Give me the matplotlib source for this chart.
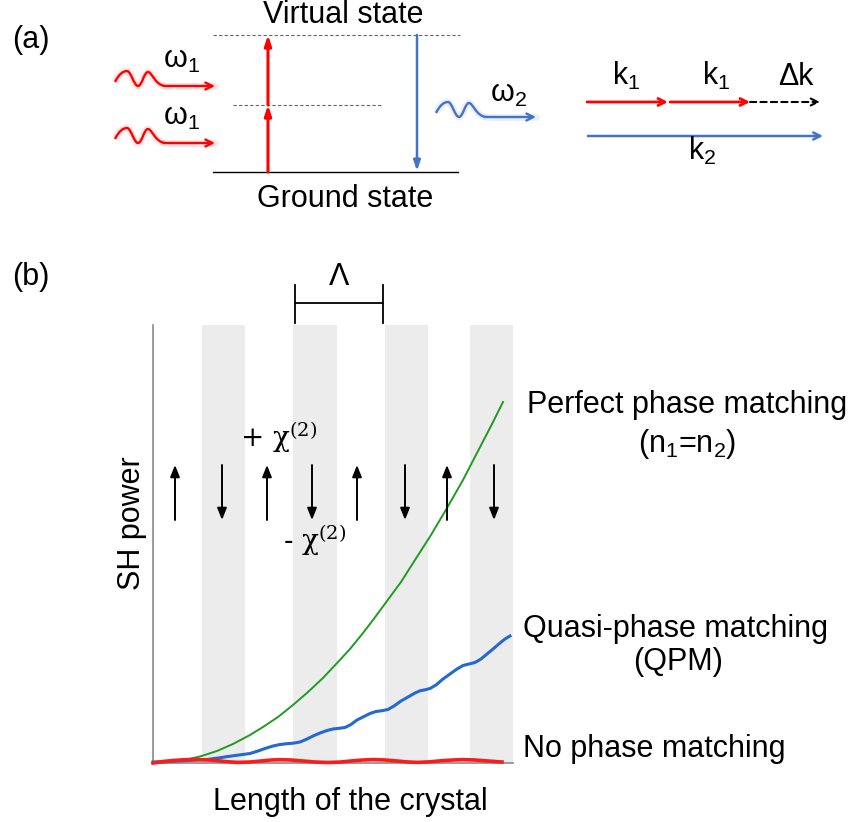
import matplotlib
matplotlib.use('Agg')
import matplotlib.pyplot as plt
from matplotlib.path import Path
from matplotlib.patches import PathPatch

plt.rcParams['font.family'] = ['Liberation Sans', 'DejaVu Sans']
plt.rcParams['mathtext.fontset'] = 'custom'
plt.rcParams['mathtext.rm'] = 'Liberation Sans'
plt.rcParams['mathtext.it'] = 'Liberation Sans'

RED = '#ff0000'
BLUE = '#4472c4'
FS = 22

# ---- (b) SH power along the crystal (x in arbitrary length units, y in arbitrary power)
stripes = [(48.5, 92), (140, 183.5), (232, 275), (317, 360)]

perfect_x = [0, 15, 30, 47, 64, 80, 97, 110, 125, 140, 155, 170, 185, 197, 210, 220,
             234, 248, 262, 278, 294, 310, 325, 338, 350]
perfect_y = [0, 0.7, 2.7, 6.5, 12, 19, 28, 36, 46, 58, 71, 85, 101, 114, 130, 143,
             162, 181, 203, 228, 255, 283, 312, 337, 361]

qpm_x = [0, 15, 30, 45, 54, 65, 75, 86, 97, 105, 112, 120, 127, 133, 140, 147, 153,
         160, 167, 174, 180, 186, 192, 198, 204, 211, 217, 223, 229, 235, 241, 248,
         255, 262, 267, 272, 277, 283, 290, 297, 304, 310, 316, 322, 328, 334, 340,
         347, 352, 357]
qpm_y = [1, 1.5, 2.2, 3, 3.5, 5, 6.5, 8, 9.5, 12, 14.5, 17, 18.5, 19.2, 19.8, 21, 23.5,
         27, 30, 32.5, 34, 34.7, 35.5, 38.5, 43, 46.5, 49.5, 51.5, 52.3, 53.5, 57, 62,
         66, 70, 72.2, 73.2, 74.5, 78, 84, 89, 94, 97.5, 99, 100.5, 104, 109, 114,
         120, 124, 127]

nopm_x = [0, 10, 20, 30, 40, 52, 64, 75, 85, 97, 108, 118, 127, 138, 150, 162,
          175, 188, 200, 210, 220, 232, 244, 255, 265, 277, 290, 300, 310, 322, 335, 349]
nopm_y = [0, 1.5, 2.5, 3.2, 3.5, 3.2, 2.4, 1.2, 0.6, 1.0, 2.0, 3.0, 3.3, 3.0, 2.0, 1.0,
          0.5, 1.0, 2.2, 3.0, 3.4, 3.0, 2.0, 1.0, 0.6, 1.2, 2.4, 3.0, 3.4, 3.0, 2.0, 1.0]

# domain orientation arrows (+chi / -chi)
up_x = [22, 114, 204, 294]
down_x = [69, 159, 252, 341]

# ---- (a) energy level diagram (figure pixel coords, y downwards)
virtual_y, middle_y, ground_y = 35, 105, 172
pump_x, sh_x = 268, 417
# wiggle of a photon, offsets from its start point
wave_pts = [(0, 0), (4, -8), (8, -11), (12, -11), (16, -11), (19, 4), (23, 4),
            (27, 4), (29, -10), (33, -10), (37, -10), (40, 3), (50, 4)]
wave_end = (100, 4)
red_waves = [(115, 82), (115, 139)]
blue_wave = (436, 113)

fig = plt.figure(figsize=(8.5, 8.22), dpi=100)

ax = fig.add_axes([153 / 850, 59 / 822, 360 / 850, 438 / 822])
ax.set_xlim(0, 360)
ax.set_ylim(0, 438)
for a, b in stripes:
    ax.axvspan(a, b, color='#ececec', lw=0, zorder=0)
ax.plot(perfect_x, perfect_y, color='#1f9c1f', lw=1.4, clip_on=False, zorder=3)
ax.plot(qpm_x, qpm_y, color='#2468d2', lw=2.2, clip_on=False, zorder=4)
ax.plot(nopm_x, nopm_y, color='#ff1a1a', lw=2.6, clip_on=False, zorder=5)
for s in ['top', 'right']:
    ax.spines[s].set_visible(False)
for s in ['left', 'bottom']:
    ax.spines[s].set_color('#8a8a8a')
    ax.spines[s].set_linewidth(1.2)
ax.set_xticks([])
ax.set_yticks([])

chi_arrow = dict(arrowstyle='-|>,head_width=0.28,head_length=0.7',
                 color='k', lw=1.4, shrinkA=0, shrinkB=0)
for x in up_x:
    ax.annotate('', xy=(x, 298), xytext=(x, 243), arrowprops=chi_arrow)
for x in down_x:
    ax.annotate('', xy=(x, 243), xytext=(x, 298), arrowprops=chi_arrow)

ax.text(87, 326, '+ χ$^{(2)}$', fontsize=20, family='DejaVu Serif',
        math_fontfamily='dejavuserif', va='center', ha='left')
ax.text(130, 223, '- χ$^{(2)}$', fontsize=20, family='DejaVu Serif',
        math_fontfamily='dejavuserif', va='center', ha='left')

# period bracket
ax.plot([142, 142], [440, 478], color='k', lw=1.3, clip_on=False)
ax.plot([230, 230], [440, 478], color='k', lw=1.3, clip_on=False)
ax.plot([142, 230], [460, 460], color='k', lw=1.3, clip_on=False)
ax.text(186, 486, 'Λ', fontsize=FS, ha='center', va='center')

# overlay in pixel coordinates
ov = fig.add_axes([0, 0, 1, 1])
ov.set_xlim(0, 850)
ov.set_ylim(822, 0)
ov.axis('off')

ov.text(12, 40, '(a)', fontsize=FS, va='center')
ov.text(12, 277, '(b)', fontsize=FS, va='center')

ov.plot([213, 460], [virtual_y, virtual_y], color='#666666', lw=0.8, ls=(0, (3, 2)))
ov.plot([233, 382], [middle_y, middle_y], color='#666666', lw=0.8, ls=(0, (3, 2)))
ov.plot([213, 458], [ground_y, ground_y], color='k', lw=1.0)

arr = dict(arrowstyle='-|>,head_width=0.2,head_length=0.6', lw=2.2, shrinkA=0, shrinkB=0)
ov.annotate('', xy=(pump_x, middle_y), xytext=(pump_x, ground_y), arrowprops=dict(arr, color=RED))
ov.annotate('', xy=(pump_x, virtual_y), xytext=(pump_x, middle_y), arrowprops=dict(arr, color=RED))
ov.annotate('', xy=(sh_x, ground_y - 1), xytext=(sh_x, virtual_y),
            arrowprops=dict(arr, color=BLUE, lw=1.8))

codes = [Path.MOVETO] + [Path.CURVE4] * 12


def photon(x0, y0, color):
    verts = [(x0 + dx, y0 + dy) for dx, dy in wave_pts]
    p = Path(verts, codes)
    ov.add_patch(PathPatch(p, fc='none', ec=color, lw=5, alpha=0.1))
    ov.add_patch(PathPatch(p, fc='none', ec=color, lw=1.7))
    ov.plot([verts[-1][0], x0 + wave_end[0]], [verts[-1][1], y0 + wave_end[1]],
            color=color, lw=5, alpha=0.1, solid_capstyle='round')
    ov.annotate('', xy=(x0 + wave_end[0], y0 + wave_end[1]), xytext=verts[-1],
                arrowprops=dict(arrowstyle='->,head_width=0.25,head_length=0.5',
                                color=color, lw=1.7, shrinkA=0, shrinkB=0))


for x0, y0 in red_waves:
    photon(x0, y0, RED)
photon(blue_wave[0], blue_wave[1], BLUE)

ov.text(163, 68, 'ω$_1$', fontsize=FS, va='baseline')
ov.text(163, 125, 'ω$_1$', fontsize=FS, va='baseline')
ov.text(490, 102, 'ω$_2$', fontsize=FS, va='baseline')
ov.text(343, 23, 'Virtual state', fontsize=FS, ha='center', va='baseline')
ov.text(345, 207, 'Ground state', fontsize=FS, ha='center', va='baseline')

# wave vector diagram
kv = dict(arrowstyle='->,head_width=0.25,head_length=0.5', shrinkA=0, shrinkB=0)
ov.annotate('', xy=(668, 102), xytext=(587, 102), arrowprops=dict(kv, color=RED, lw=2.0))
ov.annotate('', xy=(750, 102), xytext=(670, 102), arrowprops=dict(kv, color=RED, lw=2.0))
ov.annotate('', xy=(820, 102), xytext=(750, 102),
            arrowprops=dict(kv, color='k', lw=1.5, ls=(0, (3, 2))))
ov.annotate('', xy=(823, 136), xytext=(588, 136), arrowprops=dict(kv, color=BLUE, lw=1.8))
ov.text(612, 85, 'k$_1$', fontsize=FS, va='baseline')
ov.text(702, 85, 'k$_1$', fontsize=FS, va='baseline')
ov.text(778, 85, 'Δk', fontsize=FS, va='baseline')
ov.text(688, 160, 'k$_2$', fontsize=FS, va='baseline')

# (b) labels
ov.text(132, 523, 'SH power', fontsize=FS, rotation=90, ha='center', va='center')
ov.text(213, 810, 'Length of the crystal', fontsize=FS, va='baseline')
ov.text(527, 413, 'Perfect phase matching', fontsize=FS, va='baseline')
ov.text(687, 452, '(n$_1$=n$_2$)', fontsize=FS, ha='center', va='baseline')
ov.text(523, 637, 'Quasi-phase matching', fontsize=FS, va='baseline')
ov.text(678, 670, '(QPM)', fontsize=FS, ha='center', va='baseline')
ov.text(523, 757, 'No phase matching', fontsize=FS, va='baseline')

fig.savefig('out.png', dpi=100)
